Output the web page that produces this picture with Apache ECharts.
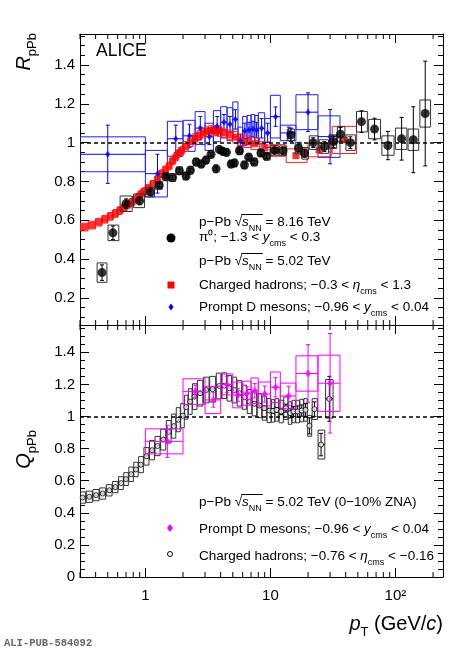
<!DOCTYPE html>
<html><head><meta charset="utf-8">
<script src="https://cdn.jsdelivr.net/npm/echarts@6/dist/echarts.min.js"></script>
<style>html,body{margin:0;padding:0;background:#fff}#c{width:469px;height:650px}</style>
</head><body><div id="c"></div>
<script>
// ---------- DATA ----------
// Top panel: pi0, p-Pb 8.16 TeV
const PI0_PT   = [0.45,0.55,0.7,0.9,1.1,1.29,1.46,1.65,1.87,2.12,2.29,2.55,2.8,3.05,3.35,3.68,3.9,4.15,4.45,4.85,5.15,5.65,6.2,6.7,7.4,8.4,9.3,10.8,12.6,14.6,16.8,18.7,22,27,32,36.3,43.6,53.5,68,87,112,139,173];
const PI0_VAL  = [0.33,0.535,0.685,0.70,0.745,0.78,0.824,0.82,0.855,0.828,0.858,0.9,0.89,0.91,0.94,0.865,0.965,0.955,0.95,0.89,0.895,0.958,0.885,0.925,0.9,0.947,0.93,0.96,0.958,1.04,0.972,0.945,1.0,0.98,1.005,1.043,1.0,1.108,1.07,0.985,1.02,1.015,1.15];
const PI0_STAT = [0.04,0.035,0.025,0.02,0.015,0.012,0.01,0.01,0.01,0.01,0.01,0.01,0.01,0.01,0.01,0.01,0.01,0.01,0.01,0.01,0.01,0.01,0.01,0.01,0.01,0.012,0.012,0.015,0.015,0.035,0.02,0.02,0.025,0.025,0.03,0.035,0.03,0.056,0.056,0.073,0.11,0.17,0.27];
const PI0_SYS  = [0.05,0.04,0.04,0.035,0.025,0.02,0.02,0.02,0.02,0.02,0.02,0.02,0.02,0.02,0.02,0.02,0.02,0.02,0.02,0.02,0.02,0.02,0.02,0.02,0.02,0.02,0.02,0.025,0.025,0.03,0.03,0.03,0.035,0.035,0.035,0.04,0.04,0.053,0.05,0.05,0.055,0.055,0.07];

// Top panel: charged hadrons, p-Pb 5.02 TeV
const CH5_PT  = [0.325,0.375,0.425,0.475,0.525,0.575,0.625,0.675,0.725,0.775,0.825,0.875,0.925,0.975,1.05,1.15,1.25,1.35,1.45,1.55,1.65,1.75,1.85,1.95,2.1,2.3,2.5,2.7,2.9,3.1,3.3,3.5,3.7,3.9,4.25,4.75,5.25,5.75,6.5,7.5,9,11,16,24.5,39];
const CH5_VAL = [0.565,0.575,0.59,0.605,0.62,0.635,0.65,0.665,0.68,0.692,0.705,0.72,0.735,0.748,0.765,0.785,0.81,0.84,0.86,0.88,0.905,0.925,0.945,0.96,0.98,1.005,1.022,1.038,1.05,1.057,1.062,1.064,1.062,1.058,1.05,1.04,1.028,1.015,1.005,0.995,0.975,0.96,0.933,0.962,1.014];
const CH5_SYS = [0.02,0.02,0.02,0.02,0.02,0.02,0.02,0.02,0.02,0.02,0.02,0.02,0.02,0.02,0.02,0.02,0.02,0.02,0.02,0.02,0.02,0.02,0.02,0.02,0.025,0.025,0.025,0.025,0.025,0.025,0.025,0.025,0.025,0.025,0.025,0.025,0.03,0.03,0.03,0.03,0.03,0.03,0.035,0.035,0.07];

// Top panel: prompt D mesons, p-Pb 5.02 TeV (bin edges)
const DT_LO   = [0,1,1.5,2,2.5,3,3.5,4,4.5,5,5.5,6,6.5,7,7.5,8,9,10,12,16,24];
const DT_HI   = [1,1.5,2,2.5,3,3.5,4,4.5,5,5.5,6,6.5,7,7.5,8,9,10,12,16,24,36];
const DT_VAL  = [0.94,0.84,1.02,1.035,1.075,1.03,1.085,1.105,1.095,1.12,1.01,1.06,1.065,1.07,1.065,1.074,1.05,1.134,1.05,1.157,1.031];
const DT_STAT = [0.15,0.1,0.07,0.06,0.06,0.04,0.05,0.04,0.04,0.05,0.03,0.04,0.04,0.04,0.04,0.05,0.05,0.05,0.03,0.1,0.14];
const DT_SYS  = [0.09,0.12,0.09,0.08,0.085,0.07,0.08,0.08,0.085,0.09,0.07,0.075,0.075,0.075,0.075,0.08,0.075,0.11,0.04,0.09,0.107];

// Bottom panel: prompt D mesons, Q_pPb 0-10% ZNA
const DQ_LO   = [1,2,3,4,5,6,7,8,10,12,16,24];
const DQ_HI   = [2,3,4,5,6,7,8,10,12,16,24,36];
const DQ_VAL  = [0.845,1.155,1.103,1.2,1.134,1.145,1.16,1.14,1.182,1.128,1.268,1.207];
const DQ_STAT = [0.1,0.04,0.045,0.05,0.04,0.04,0.045,0.05,0.06,0.06,0.18,0.31];
const DQ_SYS  = [0.078,0.08,0.085,0.065,0.08,0.075,0.08,0.075,0.095,0.08,0.11,0.175];

// Bottom panel: charged hadrons, Q_pPb 0-10% ZNA
const CHQ_PT   = [0.315,0.356,0.403,0.455,0.515,0.575,0.64,0.70,0.77,0.84,0.92,1.02,1.13,1.25,1.39,1.54,1.69,1.83,1.99,2.12,2.28,2.47,2.74,3.06,3.45,3.9,4.28,4.69,5.15,5.65,6.2,6.8,7.45,8.17,8.95,9.8,10.5,11.2,12.2,13.3,14.4,15.3,16.5,17.8,19.1,20.5,22.5,25.4,29.6];
const CHQ_VAL  = [0.495,0.5,0.51,0.52,0.54,0.56,0.585,0.61,0.64,0.67,0.70,0.752,0.79,0.816,0.856,0.905,0.94,0.98,1.005,1.058,1.093,1.124,1.145,1.165,1.17,1.19,1.192,1.176,1.165,1.145,1.12,1.093,1.079,1.068,1.052,1.037,1.035,1.041,1.031,1.052,1.021,1.031,1.031,1.037,1.041,0.942,1.046,0.825,1.11];
const CHQ_STAT = [0.005,0.005,0.005,0.005,0.005,0.005,0.005,0.005,0.005,0.005,0.005,0.005,0.005,0.005,0.005,0.005,0.005,0.005,0.005,0.005,0.005,0.005,0.005,0.005,0.005,0.005,0.005,0.005,0.005,0.005,0.008,0.008,0.01,0.01,0.012,0.012,0.015,0.015,0.02,0.025,0.03,0.03,0.035,0.035,0.04,0.05,0.045,0.07,0.14];
const CHQ_SYS  = [0.035,0.035,0.035,0.035,0.035,0.035,0.04,0.04,0.045,0.045,0.05,0.055,0.06,0.06,0.065,0.07,0.075,0.075,0.075,0.075,0.08,0.08,0.08,0.08,0.08,0.08,0.08,0.08,0.08,0.08,0.075,0.075,0.075,0.075,0.075,0.075,0.07,0.07,0.07,0.07,0.07,0.07,0.07,0.07,0.07,0.065,0.065,0.09,0.12];

// Axis tick labels
const X_TICK_LABELS = {0: '1', 1: '10', 2: '10²'};
const X_MIN = 0.3, X_MAX = 240;
const TOP_Y = [0.06, 1.56];
const BOT_Y = [0, 1.57];

// ---------- helpers ----------
const FN = 'Liberation Sans';
const F = "'Liberation Sans', Arial, sans-serif";
const LFS = 13.5;   // legend font size
const LSS = 9;      // legend subscript size

function neighbourEdges(pts, frac) {
  return pts.map((p, i) => {
    const l = Math.log10(p);
    const gl = i > 0 ? l - Math.log10(pts[i-1]) : Math.log10(pts[i+1]) - l;
    const gr = i < pts.length - 1 ? Math.log10(pts[i+1]) - l : gl;
    return [Math.pow(10, l - gl*frac), Math.pow(10, l + gr*frac)];
  });
}
function rowsFromPoints(pt, val, stat, sys, frac) {
  const e = neighbourEdges(pt, frac);
  return pt.map((p, i) => [p, val[i], stat ? stat[i] : 0, sys[i], e[i][0], e[i][1]]);
}
function rowsFromBins(lo, hi, val, stat, sys) {
  return val.map((v, i) => [(lo[i] + hi[i]) / 2, v, stat[i], sys[i], lo[i], hi[i]]);
}

function errRender(cfg) {
  return function (params, api) {
    const x = api.value(0), y = api.value(1), st = api.value(2), sy = api.value(3);
    const lo = Math.max(api.value(4), X_MIN), hi = Math.min(api.value(5), X_MAX);
    const pc = api.coord([x, y]);
    const ch = [];
    if (cfg.box) {
      const a = api.coord([lo, y + sy]), b = api.coord([hi, y - sy]);
      ch.push({type: 'rect', shape: {x: a[0], y: a[1], width: b[0]-a[0], height: b[1]-a[1]},
        style: {fill: 'none', stroke: cfg.boxColor, lineWidth: 1}});
    }
    if (cfg.xerr) {
      const l = api.coord([lo, y]), r = api.coord([hi, y]);
      ch.push({type: 'line', shape: {x1: l[0], y1: pc[1], x2: r[0], y2: pc[1]},
        style: {stroke: cfg.errColor, lineWidth: 1}});
    }
    if (cfg.err && st > 0) {
      const t = api.coord([x, y + st]), b = api.coord([x, y - st]);
      const c = cfg.cap;
      ch.push({type: 'line', shape: {x1: pc[0], y1: t[1], x2: pc[0], y2: b[1]}, style: {stroke: cfg.errColor, lineWidth: 1}});
      ch.push({type: 'line', shape: {x1: pc[0]-c, y1: t[1], x2: pc[0]+c, y2: t[1]}, style: {stroke: cfg.errColor, lineWidth: 1}});
      ch.push({type: 'line', shape: {x1: pc[0]-c, y1: b[1], x2: pc[0]+c, y2: b[1]}, style: {stroke: cfg.errColor, lineWidth: 1}});
    }
    return {type: 'group', children: ch};
  };
}

// minor ticks for log x axes
const MINOR_X = [];
[0.1, 1, 10, 100].forEach(d => { for (let m = 2; m <= 9; m++) { const v = m*d; if (v > X_MIN && v < X_MAX) MINOR_X.push([v]); } });
function minorTickRender(yRef) {
  return function (params, api) {
    const cs = params.coordSys;
    const x = api.coord([api.value(0), yRef])[0];
    return {type: 'group', children: [
      {type: 'line', shape: {x1: x, y1: cs.y + cs.height, x2: x, y2: cs.y + cs.height - 5}, style: {stroke: '#000', lineWidth: 1}},
      {type: 'line', shape: {x1: x, y1: cs.y, x2: x, y2: cs.y + 5}, style: {stroke: '#000', lineWidth: 1}}
    ]};
  };
}

// ---------- axes ----------
function xAx(grid, pos, labels) {
  return {
    gridIndex: grid, type: 'log', logBase: 10, min: X_MIN, max: X_MAX, position: pos,
    axisLine: {show: true, onZero: false, lineStyle: {color: '#000', width: 1}},
    axisTick: {show: true, inside: true, length: 9, lineStyle: {color: '#000'}},
    splitLine: {show: false},
    axisLabel: {show: labels, fontFamily: F, fontSize: 15, color: '#000', margin: 11,
      showMinLabel: false, showMaxLabel: false,
      formatter: v => { const e = Math.round(Math.log10(v)); return Math.abs(v/Math.pow(10, e) - 1) < 1e-6 && (e in X_TICK_LABELS) ? X_TICK_LABELS[e] : ''; }}
  };
}
function yAx(grid, pos, ext, labels, interval) {
  const a = {
    gridIndex: grid, type: 'value', min: ext[0], max: ext[1], position: pos, splitNumber: 8,
    axisLine: {show: true, onZero: false, lineStyle: {color: '#000', width: 1}},
    axisTick: {show: true, inside: true, length: 9, lineStyle: {color: '#000'}},
    minorTick: {show: true, splitNumber: 4, length: 5, lineStyle: {color: '#000'}},
    splitLine: {show: false}, minorSplitLine: {show: false},
    axisLabel: {show: labels, fontFamily: F, fontSize: 15, color: '#000', margin: 5,
      showMinLabel: ext[0] === 0, showMaxLabel: false}
  };
  if (interval) a.interval = interval;
  return a;
}

const dash = {silent: true, symbol: 'none', label: {show: false},
  lineStyle: {type: [4, 3], color: '#000', width: 1.5}, data: [{yAxis: 1}]};

// ---------- series ----------
const series = [
  {type: 'custom', xAxisIndex: 0, yAxisIndex: 0, z: 1, clip: false, renderItem: minorTickRender(1), data: MINOR_X, silent: true},
  {type: 'custom', xAxisIndex: 2, yAxisIndex: 2, z: 1, clip: false, renderItem: minorTickRender(1), data: MINOR_X, silent: true},
  // top panel
  {type: 'custom', name: 'D top', xAxisIndex: 0, yAxisIndex: 0, z: 2, clip: true,
    renderItem: errRender({box: true, boxColor: '#2020ff', xerr: true, err: true, errColor: '#0000ff', cap: 2}),
    data: rowsFromBins(DT_LO, DT_HI, DT_VAL, DT_STAT, DT_SYS)},
  {type: 'custom', name: 'CH5 box', xAxisIndex: 0, yAxisIndex: 0, z: 3, clip: true,
    renderItem: errRender({box: true, boxColor: '#ff2020', err: false}),
    data: rowsFromPoints(CH5_PT, CH5_VAL, null, CH5_SYS, 0.48)},
  {type: 'scatter', xAxisIndex: 0, yAxisIndex: 0, z: 4, symbol: 'rect', symbolSize: 7,
    itemStyle: {color: '#ff0000'}, data: CH5_PT.map((p, i) => [p, CH5_VAL[i]]), markLine: dash},
  {type: 'scatter', xAxisIndex: 0, yAxisIndex: 0, z: 5, symbol: 'diamond', symbolSize: [5, 7],
    itemStyle: {color: '#0000ff'}, data: DT_VAL.map((v, i) => [(DT_LO[i] + DT_HI[i]) / 2, v])},
  {type: 'custom', name: 'pi0 box', xAxisIndex: 0, yAxisIndex: 0, z: 6, clip: true,
    renderItem: errRender({box: true, boxColor: '#333333', err: true, errColor: '#000', cap: 2}),
    data: rowsFromPoints(PI0_PT, PI0_VAL, PI0_STAT, PI0_SYS, 0.45)},
  {type: 'scatter', xAxisIndex: 0, yAxisIndex: 0, z: 7, symbol: 'circle', symbolSize: 9,
    itemStyle: {color: '#000'}, data: PI0_PT.map((p, i) => [p, PI0_VAL[i]])},

  // bottom panel
  {type: 'custom', name: 'CHQ box', xAxisIndex: 2, yAxisIndex: 2, z: 2, clip: true,
    renderItem: errRender({box: true, boxColor: '#333333', xerr: true, err: true, errColor: '#000', cap: 2}),
    data: rowsFromPoints(CHQ_PT, CHQ_VAL, CHQ_STAT, CHQ_SYS, 0.45)},
  {type: 'scatter', xAxisIndex: 2, yAxisIndex: 2, z: 3, symbol: 'circle', symbolSize: 5,
    itemStyle: {color: '#fff', borderColor: '#000', borderWidth: 1},
    data: CHQ_PT.map((p, i) => [p, CHQ_VAL[i]]), markLine: dash},
  {type: 'custom', name: 'DQ', xAxisIndex: 2, yAxisIndex: 2, z: 4, clip: true,
    renderItem: errRender({box: true, boxColor: '#ff00ff', xerr: true, err: true, errColor: '#ff00ff', cap: 2}),
    data: rowsFromBins(DQ_LO, DQ_HI, DQ_VAL, DQ_STAT, DQ_SYS)},
  {type: 'scatter', xAxisIndex: 2, yAxisIndex: 2, z: 5, symbol: 'diamond', symbolSize: [6, 8],
    itemStyle: {color: '#ff00ff'}, data: DQ_VAL.map((v, i) => [(DQ_LO[i] + DQ_HI[i]) / 2, v])}
];

// ---------- text / legend ----------
const RICH = {
  n: {fontFamily: F, fontSize: LFS, lineHeight: 22, fill: '#000'},
  i: {fontFamily: F, fontSize: LFS, fontStyle: 'italic', lineHeight: 22, fill: '#000'},
  s: {fontFamily: F, fontSize: LSS, lineHeight: 14, verticalAlign: 'bottom', fill: '#000'},
  c: {fontFamily: F, fontSize: LSS, lineHeight: 8, verticalAlign: 'bottom', fill: '#000'},
  T: {fontFamily: F, fontSize: 20, lineHeight: 30, fill: '#000'},
  TI: {fontFamily: F, fontSize: 20, fontStyle: 'italic', lineHeight: 30, fill: '#000'},
  TS: {fontFamily: F, fontSize: 13, lineHeight: 18, verticalAlign: 'bottom', fill: '#000'}
};
function txt(x, y, text) {
  return {type: 'text', x: x, y: y, z: 100,
    style: {text: text, rich: RICH, align: 'left', verticalAlign: 'middle', font: LFS + 'px ' + F, fill: '#000'}};
}
// measure text widths to place the radical's overline
const mctx = document.createElement('canvas').getContext('2d');
function tw(s, font) { mctx.font = font; return mctx.measureText(s).width; }
function overline(x, y) {
  const x0 = x + tw('p−Pb ', LFS + 'px ' + F) + tw('√', LFS + 'px ' + F) - 0.8;
  const x1 = x0 + 0.8 + tw('s', 'italic ' + LFS + 'px ' + F) + tw('NN', LSS + 'px ' + F) + 1;
  return {type: 'line', z: 100, shape: {x1: x0, y1: y - 7.5, x2: x1, y2: y - 7.5}, style: {stroke: '#000', lineWidth: 1}};
}
const LX = 199;
const graphic = [
  {type: 'text', x: 96, y: 51, z: 100, style: {text: 'ALICE', font: '17.5px ' + F, fill: '#000', verticalAlign: 'middle'}},
  txt(LX, 222, '{n|p−Pb }{n|√}{i|s}{s|NN}{n| = 8.16 TeV}'),
  overline(LX, 222),
  txt(LX, 237, '{n|π⁰; −1.3 < }{i|y}{c|cms}{n| < 0.3}'),
  txt(LX, 261, '{n|p−Pb }{n|√}{i|s}{s|NN}{n| = 5.02 TeV}'),
  overline(LX, 261),
  txt(LX, 285, '{n|Charged hadrons; −0.3 < }{i|η}{c|cms}{n| < 1.3}'),
  txt(LX, 307, '{n|Prompt D mesons; −0.96 < }{i|y}{c|cms}{n| < 0.04}'),
  {type: 'circle', z: 100, shape: {cx: 171, cy: 238, r: 4.5}, style: {fill: '#000'}},
  {type: 'rect', z: 100, shape: {x: 167.5, y: 281.5, width: 7, height: 7}, style: {fill: '#ff0000'}},
  {type: 'polygon', z: 100, shape: {points: [[171, 303.5], [173.5, 307], [171, 310.5], [168.5, 307]]}, style: {fill: '#0000ff'}},

  txt(LX, 502, '{n|p−Pb }{n|√}{i|s}{s|NN}{n| = 5.02 TeV (0−10% ZNA)}'),
  overline(LX, 502),
  txt(LX, 529, '{n|Prompt D mesons; −0.96 < }{i|y}{c|cms}{n| < 0.04}'),
  txt(LX, 556, '{n|Charged hadrons; −0.76 < }{i|η}{c|cms}{n| < −0.16}'),
  {type: 'polygon', z: 100, shape: {points: [[170, 524], [173, 528], [170, 532], [167, 528]]}, style: {fill: '#ff00ff'}},
  {type: 'circle', z: 100, shape: {cx: 170, cy: 554, r: 2.5}, style: {fill: '#fff', stroke: '#000', lineWidth: 1}},

  {type: 'text', x: 24, y: 33, rotation: Math.PI / 2, z: 100,
    style: {text: '{TI|R}{TS|pPb}', rich: RICH, align: 'right', verticalAlign: 'middle'}},
  {type: 'text', x: 24, y: 430, rotation: Math.PI / 2, z: 100,
    style: {text: '{TI|Q}{TS|pPb}', rich: RICH, align: 'right', verticalAlign: 'middle'}},
  {type: 'text', x: 443, y: 624, z: 100,
    style: {text: '{TI|p}{TS|T}{T| (GeV/}{TI|c}{T|)}', rich: RICH, align: 'right', verticalAlign: 'middle'}},
  {type: 'text', x: 4, y: 643, z: 100,
    style: {text: 'ALI-PUB-584092', font: 'bold 10.5px "Liberation Mono", monospace', fill: '#666', verticalAlign: 'middle'}}
];

const chart = echarts.init(document.getElementById('c'), null, {renderer: 'canvas'});
chart.setOption({
  animation: false,
  backgroundColor: '#fff',
  grid: [
    {left: 80, right: 26, top: 34, height: 291},
    {left: 80, right: 26, top: 325, height: 252}
  ],
  xAxis: [xAx(0, 'bottom', false), xAx(0, 'top', false), xAx(1, 'bottom', true), xAx(1, 'top', false)],
  yAxis: [yAx(0, 'left', TOP_Y, true), yAx(0, 'right', TOP_Y, false), yAx(1, 'left', BOT_Y, true, 0.2), yAx(1, 'right', BOT_Y, false, 0.2)],
  series: series,
  graphic: graphic
});
</script></body></html>
